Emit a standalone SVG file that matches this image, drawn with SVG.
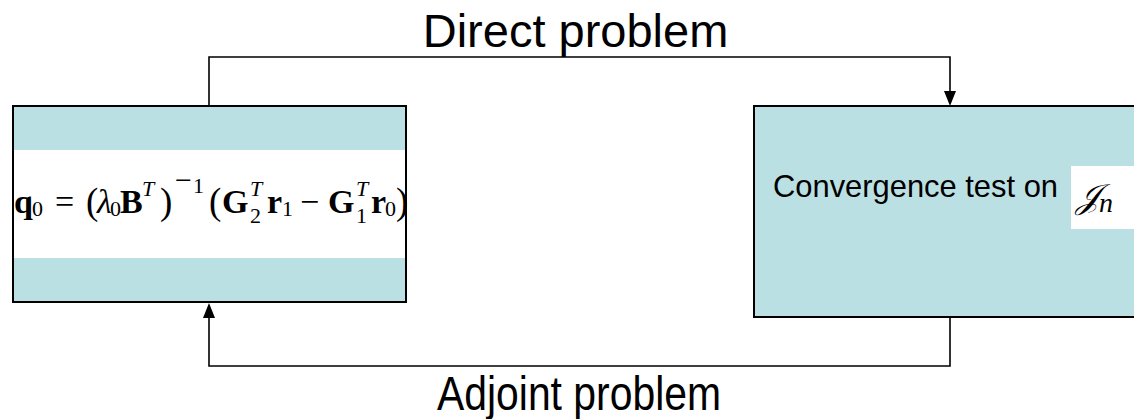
<svg xmlns="http://www.w3.org/2000/svg" width="1134" height="419" viewBox="0 0 1134 419">
  <style>
    .box { fill: #bae0e3; stroke: #000; stroke-width: 2; }
    .band { fill: #ffffff; }
    .wire { fill: none; stroke: #000; stroke-width: 1.6; }
    .label { font-family: "Liberation Sans", Arial, sans-serif; fill: #000; }
    .math { font-family: "Liberation Serif", "Times New Roman", serif; fill: #000; font-size: 34px; }
    .bf { font-weight: bold; }
    .it { font-style: italic; }
    .sm { font-size: 22px; }
    .paren { font-size: 37px; }
  </style>

  <rect width="1134" height="419" fill="#fff"/>

  <!-- loop connectors -->
  <g id="connectors">
    <path class="wire" d="M209,106 V57 H950 V91"/>
    <path d="M944,91 L956,91 L950,106 Z" fill="#000"/>
    <path class="wire" d="M950,317 V366 H209 V318"/>
    <path d="M203,318 L215,318 L209,303 Z" fill="#000"/>
  </g>

  <text class="label" x="575.5" y="47" font-size="47" text-anchor="middle">Direct problem</text>
  <text class="label" x="437" y="410" font-size="48" textLength="284" lengthAdjust="spacingAndGlyphs">Adjoint problem</text>

  <!-- update step -->
  <g id="update">
    <rect class="box" x="13" y="106" width="393" height="196"/>
    <rect class="band" x="14" y="150" width="391" height="108"/>
    <text class="math">
      <tspan class="bf" x="14" y="213">q</tspan><tspan class="sm" x="32" y="216">0</tspan>
      <tspan x="55" y="213">=</tspan>
      <tspan class="paren" x="86" y="214">(</tspan><tspan class="it" x="97" y="213">λ</tspan><tspan class="sm" x="110" y="216">0</tspan>
      <tspan class="bf" x="120" y="213">B</tspan><tspan class="sm it" x="142" y="196">T</tspan>
      <tspan class="paren" x="160" y="214">)</tspan><tspan font-size="30" x="175" y="190">−</tspan><tspan class="sm" x="193" y="193">1</tspan>
      <tspan class="paren" x="209" y="214">(</tspan><tspan class="bf" x="222" y="213">G</tspan><tspan class="sm it" x="250" y="196">T</tspan><tspan class="sm" x="250" y="223">2</tspan>
      <tspan class="bf" x="267" y="213">r</tspan><tspan class="sm" x="282" y="216">1</tspan>
      <tspan x="300" y="213">−</tspan>
      <tspan class="bf" x="328" y="213">G</tspan><tspan class="sm it" x="356" y="196">T</tspan><tspan class="sm" x="356" y="223">1</tspan>
      <tspan class="bf" x="371" y="213">r</tspan><tspan class="sm" x="385" y="216">0</tspan><tspan class="paren" x="396" y="214">)</tspan>
    </text>
  </g>

  <!-- convergence check -->
  <g id="convergence">
    <rect class="box" x="754" y="106" width="392" height="211"/>
    <text class="label" x="773" y="197" font-size="31.5" textLength="285" lengthAdjust="spacingAndGlyphs">Convergence test on</text>
    <rect class="band" x="1071" y="166" width="63" height="63"/>
    <text class="math" x="1076" y="208" font-size="42"><tspan class="it">𝒥</tspan><tspan class="it" font-size="28" y="212">n</tspan></text>
  </g>
</svg>
